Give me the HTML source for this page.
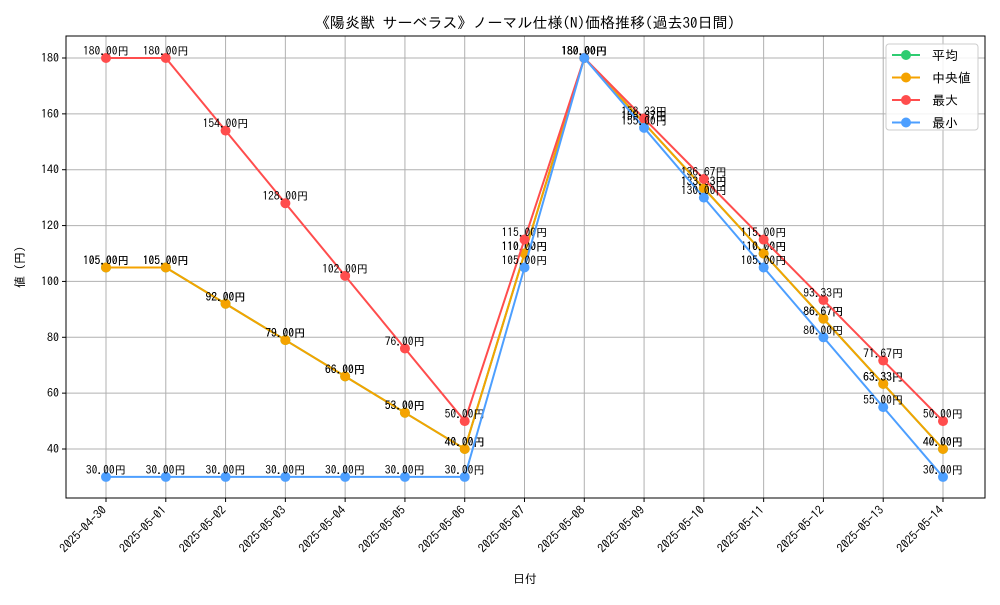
<!DOCTYPE html>
<html><head><meta charset="utf-8"><style>
body{margin:0;background:#fff}
svg{font-family:"IPAGothic","Noto Sans CJK JP",sans-serif}
</style></head><body>
<svg id="chart" width="1000" height="600" xmlns="http://www.w3.org/2000/svg">
<rect width="1000" height="600" fill="#fff"/>
<text x="525" y="28" font-size="15" text-anchor="middle">《陽炎獣 サーベラス》ノーマル仕様(N)価格推移(過去30日間)</text>
<g id="grid"></g><g id="axes"></g><g id="series"></g>
<text x="525" y="583" font-size="12" text-anchor="middle">日付</text>
<text x="24" y="267" font-size="12" text-anchor="middle" transform="rotate(-90 24 267)">値 (円)</text>
<g id="legend">
<rect x="886" y="44" width="92" height="86" fill="#fff" fill-opacity="0.85" stroke="#ccc" rx="3"/>
</g>
</svg>
<script>
const categories=["2025-04-30","2025-05-01","2025-05-02","2025-05-03","2025-05-04","2025-05-05","2025-05-06","2025-05-07","2025-05-08","2025-05-09","2025-05-10","2025-05-11","2025-05-12","2025-05-13","2025-05-14"];
const avgValues=[105,105,92,79,66,53,40,110,180,156.67,133.33,110,86.67,63.33,40];
const medianValues=[105,105,92,79,66,53,40,110,180,156.67,133.33,110,86.67,63.33,40];
const maxValues=[180,180,154,128,102,76,50,115,180,158.33,136.67,115,93.33,71.67,50];
const minValues=[30,30,30,30,30,30,30,105,180,155,130,105,80,55,30];
const yTicks=[40,60,80,100,120,140,160,180];
const seriesNames=["平均","中央値","最大","最小"];
const NS="http://www.w3.org/2000/svg";
const L=66,R=985,T=36,B=498;
function xs(i){return 106+i*(943-106)/(categories.length-1);}
function ys(v){return 449-(v-40)*(449-58)/140;}
function mk(tag,attrs,parent){const e=document.createElementNS(NS,tag);for(const k in attrs)e.setAttribute(k,attrs[k]);parent.appendChild(e);return e;}
const grid=document.getElementById('grid'),axes=document.getElementById('axes'),ser=document.getElementById('series'),leg=document.getElementById('legend');
categories.forEach((c,i)=>{
 const g=mk('line',{x1:xs(i),x2:xs(i),y1:T,y2:B,stroke:'#b0b0b0','stroke-width':1},grid);
 
 
 mk('line',{x1:xs(i),x2:xs(i),y1:B,y2:B+4,stroke:'#000'},axes);
 const t=mk('text',{x:xs(i),y:B+10,'font-size':12,'text-anchor':'end',transform:`rotate(-45 ${xs(i)+4} ${B+10})`},axes);
 
 
 t.textContent=c;
});
yTicks.forEach(v=>{
 const g=mk('line',{x1:L,x2:R,y1:ys(v),y2:ys(v),stroke:'#b0b0b0','stroke-width':1},grid);
 
 
 mk('line',{x1:L-4,x2:L,y1:ys(v),y2:ys(v),stroke:'#000'},axes);
 const t=mk('text',{x:L-7,y:ys(v)+4,'font-size':12,'text-anchor':'end'},axes);
 
 
 t.textContent=v;
});
const frame=mk('rect',{x:L,y:T,width:R-L,height:B-T,fill:'none',stroke:'#000','stroke-width':1},axes);


const series=[[avgValues,'#2ecc71','average'],[medianValues,'#f5a300','median'],[maxValues,'#ff4d4d','max'],[minValues,'#4d9fff','min']];
series.forEach(([vals,col,nm])=>{
 const g=mk('g',{},ser);
 
 
 const p=mk('polyline',{points:vals.map((v,i)=>xs(i)+','+ys(v)).join(' '),fill:'none',stroke:col,'stroke-width':2},g);
 
 
 vals.forEach((v,i)=>{
  const c=mk('circle',{cx:xs(i),cy:ys(v),r:5,fill:col},g);
  
  
  const t=mk('text',{x:xs(i),y:ys(v)-3,'font-size':11.5,'text-anchor':'middle',fill:'#000'},g);
  
  
  t.textContent=v.toFixed(2)+'円';
 });
});
series.forEach(([vals,col,nm],k)=>{
 const y=55+k*22.5;
 const e=mk('g',{},leg);
 
 
 mk('line',{x1:892,x2:920,y1:y,y2:y,stroke:col,'stroke-width':2},e);
 mk('circle',{cx:906,cy:y,r:5,fill:col},e);
 const t=mk('text',{x:932,y:y+5,'font-size':13},e);
 t.textContent=(k==1?' ':'')+seriesNames[k];
});
</script>
</body></html>
